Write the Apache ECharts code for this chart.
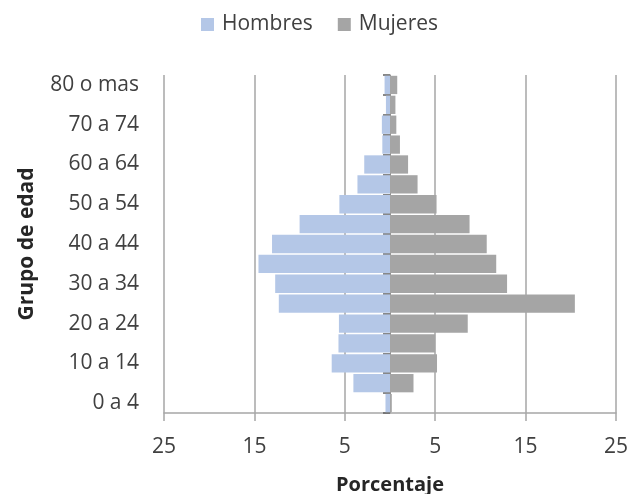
<!DOCTYPE html>
<html>
<head>
<meta charset="utf-8">
<script src="https://cdn.jsdelivr.net/npm/echarts@6/dist/echarts.min.js"></script>
<style>html,body{margin:0;padding:0;background:#fff;}#c{width:631px;height:494px;}</style>
</head>
<body>
<div id="c"></div>
<script>
const categories = ["0 a 4","5 a 9","10 a 14","15 a 19","20 a 24","25 a 29","30 a 34","35 a 39","40 a 44","45 a 49","50 a 54","55 a 59","60 a 64","65 a 69","70 a 74","75 a 79","80 o mas"];
const hombres = [0.5, 4.05, 6.45, 5.7, 5.65, 12.3, 12.7, 14.55, 13.05, 10.0, 5.6, 3.6, 2.85, 0.85, 0.9, 0.45, 0.6];
const mujeres = [0.2, 2.6, 5.2, 5.0, 8.6, 20.45, 12.95, 11.75, 10.7, 8.8, 5.15, 3.05, 2.0, 1.1, 0.7, 0.6, 0.8];
const xTicks = [-25, -15, -5, 5, 15, 25];
const seriesNames = ["Hombres", "Mujeres"];

const font = "'Open Sans', Lato, sans-serif";
const chart = echarts.init(document.getElementById('c'), null, {renderer: 'canvas'});
chart.setOption({
  animation: false,
  textStyle: {fontFamily: font},
  legend: {
    data: seriesNames,
    left: 196, top: 9,
    itemWidth: 13, itemHeight: 13, itemGap: 25,
    icon: 'rect',
    textStyle: {fontSize: 21, color: '#404040', fontFamily: font, padding: [0,0,0,3]}
  },
  grid: {left: 164, right: 15, top: 75, bottom: 81, containLabel: false, outerBoundsMode: 'none'},
  xAxis: {
    type: 'value', min: -25, max: 25, interval: 10,
    name: 'Porcentaje', nameLocation: 'middle', nameGap: 62,
    nameTextStyle: {fontSize: 20, fontWeight: 'bold', color: '#262626', fontFamily: font},
    axisLine: {show: true, onZero: false, lineStyle: {color: '#a6a6a6', width: 1.5}},
    axisTick: {show: true, length: 8, lineStyle: {color: '#a6a6a6', width: 1.5}},
    axisLabel: {fontSize: 21, color: '#404040', margin: 24, fontFamily: font,
      formatter: v => xTicks.indexOf(v) >= 0 ? String(Math.abs(v)) : ''},
    splitLine: {show: true, lineStyle: {color: '#a6a6a6', width: 1.5}}
  },
  yAxis: [{
    type: 'category', data: categories, position: 'left',
    name: 'Grupo de edad', nameLocation: 'middle', nameGap: 126,
    nameTextStyle: {fontSize: 21, fontWeight: 'bold', color: '#262626', fontFamily: font},
    axisLine: {show: false, onZero: false}, axisTick: {show: false},
    axisLabel: {fontSize: 21, color: '#404040', margin: 25, interval: 1, fontFamily: font}
  }, {
    type: 'category', data: categories, position: 'left',
    axisLine: {show: true, onZero: true, onZeroAxisIndex: 0, lineStyle: {color: '#909090', width: 1}},
    axisTick: {show: true, length: 7, lineStyle: {color: '#606060', width: 1.5}},
    axisLabel: {show: false}
  }],
  series: [{
    name: seriesNames[0], type: 'bar', yAxisIndex: 0,
    data: hombres.map(v => -v),
    barGap: '-100%', barCategoryGap: '8%',
    itemStyle: {color: '#b4c7e7'}
  }, {
    name: seriesNames[1], type: 'bar', yAxisIndex: 0,
    data: mujeres,
    barGap: '-100%', barCategoryGap: '8%',
    itemStyle: {color: '#a5a5a5'}
  }]
});
</script>
</body>
</html>
